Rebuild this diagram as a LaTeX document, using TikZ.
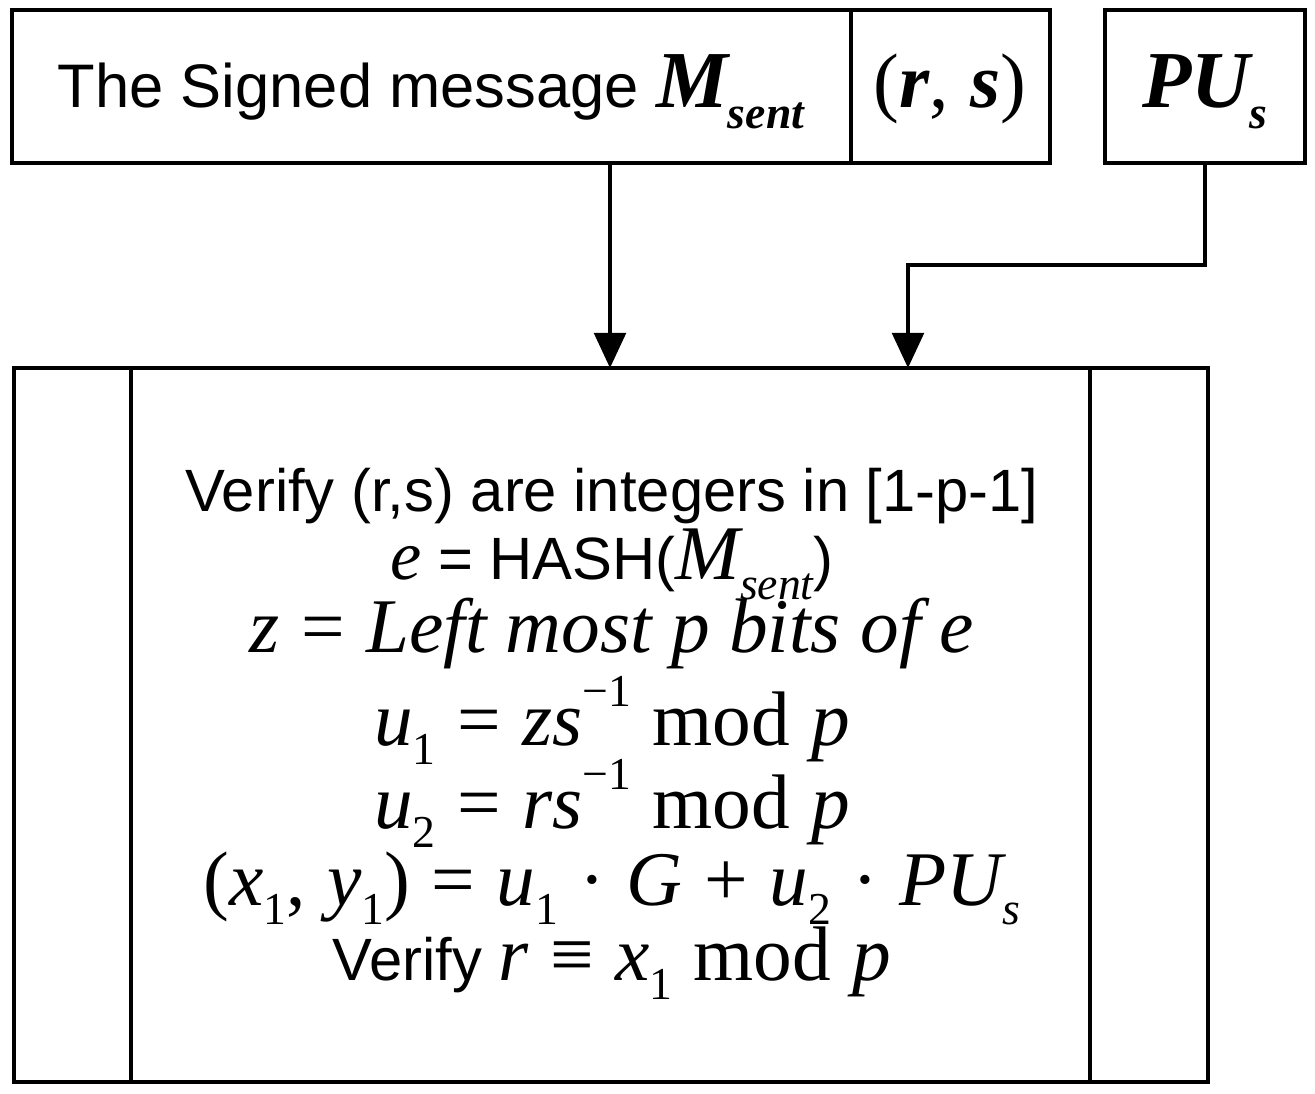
\documentclass[tikz,border=0pt]{standalone}
\usepackage{fontspec}
\setmainfont{Liberation Sans}
\newfontfamily\ser{Liberation Serif}
\usetikzlibrary{arrows.meta}
\newcommand{\V}[1]{{\ser\itshape #1}}
\newcommand{\R}[1]{{\ser #1}}
\newcommand{\Sb}[1]{\raisebox{-0.25em}{\ser\fontsize{26}{28}\selectfont #1}}
\newcommand{\Sp}[1]{\raisebox{0.5em}{\ser\fontsize{26}{28}\selectfont #1}}
\begin{document}
\begin{tikzpicture}[x=0.02cm,y=-0.02cm,
  bx/.style={draw,line width=2.2pt},
  ar/.style={line width=2.2pt,-{Triangle[length=20pt,width=18pt]}},
  ln/.style={font=\fontsize{34}{38}\selectfont,anchor=base,inner sep=0pt},
  mln/.style={font=\fontsize{44}{48}\selectfont,anchor=base,inner sep=0pt}]
\useasboundingbox (0,0) rectangle (1315,1094);
\draw[bx] (12,10) rectangle (1050,163);
\draw[bx] (851,10) -- (851,163);
\draw[bx] (1105,10) rectangle (1305,163);
\draw[bx] (14,368) rectangle (1208,1082);
\draw[bx] (131,368) -- (131,1082);
\draw[bx] (1090,368) -- (1090,1082);
\node[font=\fontsize{35}{40}\selectfont,anchor=base] (msg) at (431,108) {The Signed message {\fontsize{46}{48}\selectfont\ser\bfseries\itshape M\Sb{\bfseries sent}}};
\node[font=\fontsize{44}{48}\selectfont,anchor=base] (rs) at (950,108) {\R{(}\V{\bfseries r}\R{,} \V{\bfseries s}\R{)}};
\node[font=\fontsize{46}{48}\selectfont,anchor=base] (pu) at (1205,108) {\V{\bfseries PU}\Sb{\itshape\bfseries s}};
\coordinate (a1) at (610,163);
\coordinate (a2) at (610,368);
\coordinate (b1) at (1205,163);
\coordinate (b2) at (908,368);
\draw[ar] (a1) -- (a2);
\draw[ar] (b1) |- (908,265) -- (b2);
\node[ln] (l1) at (612,512) {Verify (r,s) are integers in [1-p-1]};
\node[ln] (l2) at (612,580) {{\fontsize{40}{44}\selectfont\V{e}} = HASH({\fontsize{44}{48}\selectfont\V{M}\Sb{\itshape sent}})};
\node[mln] (l3) at (612,652) {\V{z} \R{=} \V{Left most p bits of e}};
\node[mln] (l4) at (612,745) {\V{u}\Sb{1} \R{=} \V{zs}\Sp{−1} \R{mod} \V{p}};
\node[mln] (l5) at (612,828) {\V{u}\Sb{2} \R{=} \V{rs}\Sp{−1} \R{mod} \V{p}};
\node[mln] (l6) at (612,905) {\R{(}\V{x}\Sb{1}\R{,} \V{y}\Sb{1}\R{)} \R{=} \V{u}\Sb{1} \R{·} \V{G} \R{+} \V{u}\Sb{2} \R{·} \V{PU}\Sb{\itshape s}};
\node[ln] (l7) at (612,980) {Verify {\fontsize{44}{48}\selectfont\V{r} \R{≡} \V{x}\Sb{1} \R{mod} \V{p}}};
\end{tikzpicture}
\end{document}
